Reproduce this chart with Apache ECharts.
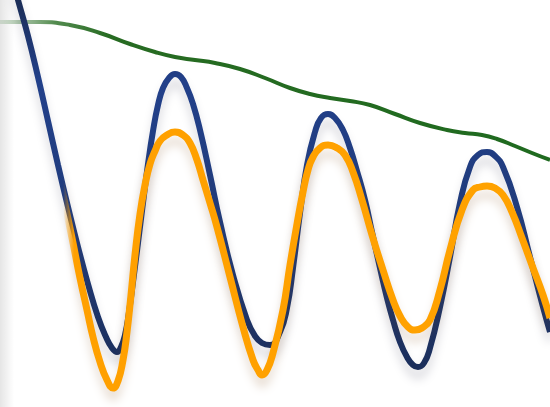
<!DOCTYPE html>
<html>
<head>
<meta charset="utf-8">
<style>
  html, body { margin: 0; padding: 0; background: #fff; }
  #main { width: 550px; height: 407px; }
</style>
<script src="https://cdn.jsdelivr.net/npm/echarts@6/dist/echarts.min.js"></script>
</head>
<body>
<div id="main"></div>
<script>
// x position and depth from the top (the y axis is inverted)
const greenX = [0, 40, 70, 100, 130, 155, 175, 195, 215, 240, 265, 290, 310, 330, 350, 370, 395, 420,
  447, 465, 482, 497, 515, 532, 550];
const greenY = [22, 22, 25, 33, 44, 52, 57, 60, 63, 69, 78, 88, 94, 98, 101, 105, 114, 123,
  130, 133, 135, 139, 146, 153, 160];

const blueX = [14, 18, 28, 38, 48, 58, 68, 78, 88, 98, 106, 112, 117, 121, 125, 129, 133, 138, 143, 148,
  153, 158, 163, 169, 175, 181, 187, 193, 200, 210, 220, 233, 247, 255, 262, 270, 280, 287, 293, 300,
  307, 315, 321, 328, 335, 343, 350, 357, 365, 372, 380, 387, 393, 400, 407, 413, 418, 424, 430, 440,
  450, 460, 470, 478, 487, 495, 503, 517, 530, 543, 550];
const blueY = [-15, 0, 36, 77, 121, 165, 207, 247, 284, 317, 337, 348, 352, 347, 335, 312, 282, 243, 203, 164,
  131, 105, 88, 78, 74, 77, 88, 104, 130, 175, 222, 275, 320, 336, 343, 345, 332, 308, 268, 213,
  165, 132, 118, 114, 118, 130, 148, 171, 200, 232, 268, 298, 320, 342, 357, 365, 367, 363, 348, 307,
  257, 203, 167, 155, 152, 156, 167, 207, 257, 307, 332];

const orangeX = [14, 28, 38, 48, 62, 72, 80, 87, 93, 100, 107, 113, 118, 123, 127, 131, 135, 140, 145, 150,
  155, 160, 167, 175, 183, 190, 197, 203, 210, 217, 230, 243, 253, 258, 262, 267, 273, 283, 290, 297,
  303, 308, 313, 320, 328, 337, 345, 353, 362, 372, 383, 393, 400, 408, 415, 422, 430, 440, 450, 462,
  473, 480, 487, 495, 503, 512, 522, 533, 543, 550];
const orangeY = [-15, 36, 77, 121, 190, 238, 278, 310, 337, 362, 380, 388, 381, 360, 332, 295, 255, 214, 185, 164,
  151, 141, 135, 132, 135, 143, 160, 180, 203, 227, 277, 327, 360, 370, 375, 370, 353, 310, 265, 224,
  192, 170, 157, 148, 145, 148, 155, 172, 200, 235, 270, 300, 316, 327, 330, 328, 320, 290, 250, 210,
  190, 187, 186, 188, 195, 212, 238, 268, 295, 318];

function pairs(xs, ys) {
  return xs.map((x, i) => [x, ys[i]]);
}

const chart = echarts.init(document.getElementById('main'));

chart.setOption({
  backgroundColor: '#ffffff',
  animation: false,
  grid: { left: 0, right: 0, top: 0, bottom: 0 },
  xAxis: { type: 'value', min: 0, max: 550, show: false },
  yAxis: { type: 'value', min: 0, max: 407, inverse: true, show: false },
  graphic: [{
    type: 'rect',
    left: 0,
    top: 0,
    z: -10,
    shape: { width: 14, height: 407 },
    style: {
      fill: new echarts.graphic.LinearGradient(0, 0, 1, 0, [
        { offset: 0, color: 'rgba(0,0,0,0.10)' },
        { offset: 1, color: 'rgba(0,0,0,0)' }
      ])
    }
  }],
  series: [
    {
      name: 'green',
      type: 'line',
      smooth: true,
      symbol: 'none',
      z: 2,
      data: pairs(greenX, greenY),
      lineStyle: {
        width: 4,
        color: new echarts.graphic.LinearGradient(0, 0, 550, 0, [
          { offset: 0, color: 'rgba(40,110,35,0.15)' },
          { offset: 0.1, color: 'rgba(40,110,35,0.8)' },
          { offset: 0.2, color: '#276b22' },
          { offset: 1, color: '#1f6a1f' }
        ], true)
      }
    },
    {
      name: 'blue',
      type: 'line',
      smooth: true,
      symbol: 'none',
      z: 3,
      data: pairs(blueX, blueY),
      lineStyle: {
        width: 6,
        color: new echarts.graphic.LinearGradient(0, 0, 0, 407, [
          { offset: 0, color: '#1b2d57' },
          { offset: 0.2, color: '#22408a' },
          { offset: 0.6, color: '#1f3a78' },
          { offset: 1, color: '#1a2b52' }
        ], true),
        shadowColor: 'rgba(30,30,60,0.18)',
        shadowBlur: 10,
        shadowOffsetY: 9
      }
    },
    {
      name: 'orange',
      type: 'line',
      smooth: true,
      symbol: 'none',
      z: 4,
      data: pairs(orangeX, orangeY),
      lineStyle: {
        width: 7,
        color: new echarts.graphic.LinearGradient(0, 0, 550, 0, [
          { offset: 0, color: 'rgba(255,160,0,0)' },
          { offset: 0.115, color: 'rgba(255,160,0,0)' },
          { offset: 0.135, color: '#ffa000' },
          { offset: 1, color: '#ffa200' }
        ], true),
        shadowColor: 'rgba(120,60,0,0.18)',
        shadowBlur: 10,
        shadowOffsetY: 9
      }
    }
  ]
});
</script>
</body>
</html>
